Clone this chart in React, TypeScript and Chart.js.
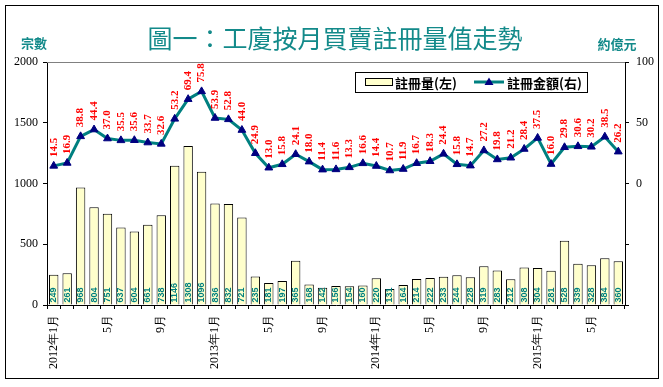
import React, { useEffect, useRef } from "react";
import { Chart, registerables } from "chart.js";

Chart.register(...registerables);

const monthLabels: string[] = [
  "2012年1月", "", "", "", "5月", "", "", "", "9月", "", "", "",
  "2013年1月", "", "", "", "5月", "", "", "", "9月", "", "", "",
  "2014年1月", "", "", "", "5月", "", "", "", "9月", "", "", "",
  "2015年1月", "", "", "", "5月", "", "",
];

const registrations: number[] = [
  249, 261, 968, 804, 751, 637, 604, 661, 738, 1146, 1308, 1096,
  836, 832, 721, 235, 181, 197, 365, 168, 142, 156, 154, 160,
  220, 131, 164, 214, 222, 233, 244, 228, 319, 283, 212, 308,
  304, 281, 528, 339, 328, 384, 360,
];

const amounts: number[] = [
  14.5, 16.9, 38.8, 44.4, 37.0, 35.5, 35.6, 33.7, 32.6, 53.2, 69.4, 75.8,
  53.9, 52.8, 44.0, 24.9, 13.0, 15.8, 24.1, 18.0, 11.4, 11.6, 13.3, 16.6,
  14.4, 10.7, 11.9, 16.7, 18.3, 24.4, 15.8, 14.7, 27.2, 19.8, 21.2, 28.4,
  37.5, 16.0, 29.8, 30.6, 30.2, 38.5, 26.2,
];

const TITLE = "圖一：工廈按月買賣註冊量值走勢";
const LEFT_UNIT = "宗數";
const RIGHT_UNIT = "約億元";
const BAR_NAME = "註冊量(左)";
const LINE_NAME = "註冊金額(右)";

const TEAL = "#138a8a";
const CJK = '"Noto Sans CJK TC", "Noto Sans CJK SC", sans-serif';

const decorPlugin = {
  id: "decor",
  beforeDraw(chart: any) {
    const ctx = chart.ctx;
    ctx.save();
    ctx.fillStyle = "#ffffff";
    ctx.fillRect(0, 0, chart.width, chart.height);
    ctx.restore();
  },
  afterDatasetsDraw(chart: any) {
    const ctx = chart.ctx;
    ctx.save();
    // bar value labels
    const barMeta = chart.getDatasetMeta(0);
    ctx.fillStyle = "#008080";
    ctx.font = 'bold 9px "Liberation Sans Narrow", "Liberation Sans", Arial, sans-serif';
    ctx.textAlign = "left";
    ctx.textBaseline = "middle";
    barMeta.data.forEach((el: any, i: number) => {
      ctx.save();
      ctx.translate(el.x, el.base - 2);
      ctx.rotate(-Math.PI / 2);
      ctx.fillText(String(registrations[i]), 0, 0);
      ctx.restore();
    });
    // line value labels
    const lineMeta = chart.getDatasetMeta(1);
    ctx.fillStyle = "#ff0000";
    ctx.font = 'bold 11px "Liberation Serif", "Times New Roman", serif';
    lineMeta.data.forEach((el: any, i: number) => {
      ctx.save();
      ctx.translate(el.x, el.y - 9);
      ctx.rotate(-Math.PI / 2);
      ctx.fillText(amounts[i].toFixed(1), 0, 0);
      ctx.restore();
    });
    ctx.restore();
  },
  afterDraw(chart: any) {
    const ctx = chart.ctx;
    const area = chart.chartArea;
    ctx.save();
    // top border of plot area
    ctx.strokeStyle = "#808080";
    ctx.lineWidth = 1;
    ctx.beginPath();
    ctx.moveTo(area.left, Math.round(area.top) + 0.5);
    ctx.lineTo(area.right, Math.round(area.top) + 0.5);
    ctx.stroke();
    // outer frame
    ctx.strokeStyle = "#000000";
    ctx.strokeRect(5.5, 5.5, 653, 373);
    // title
    ctx.fillStyle = TEAL;
    ctx.font = "25px " + CJK;
    ctx.textAlign = "center";
    ctx.textBaseline = "middle";
    ctx.fillText(TITLE, 335, 38);
    // unit labels
    ctx.font = "bold 13px " + CJK;
    ctx.fillText(LEFT_UNIT, 34, 43);
    ctx.fillText(RIGHT_UNIT, 617, 44);
    // legend
    ctx.fillStyle = "#ffffff";
    ctx.fillRect(355.5, 72.5, 232, 20);
    ctx.strokeStyle = "#000000";
    ctx.strokeRect(355.5, 72.5, 232, 20);
    ctx.fillStyle = "#ffffcc";
    ctx.fillRect(365.5, 78.5, 27, 7);
    ctx.strokeRect(365.5, 78.5, 27, 7);
    ctx.fillStyle = "#000000";
    ctx.font = "bold 13px " + CJK;
    ctx.textAlign = "left";
    ctx.fillText(BAR_NAME, 395, 83);
    ctx.strokeStyle = "#008080";
    ctx.lineWidth = 3;
    ctx.beginPath();
    ctx.moveTo(474, 82);
    ctx.lineTo(504, 82);
    ctx.stroke();
    ctx.fillStyle = "#000080";
    ctx.beginPath();
    ctx.moveTo(489, 77.5);
    ctx.lineTo(493.5, 85);
    ctx.lineTo(484.5, 85);
    ctx.closePath();
    ctx.fill();
    ctx.fillStyle = "#000000";
    ctx.fillText(LINE_NAME, 507, 83);
    ctx.restore();
  },
};

export default function App() {
  const canvasRef = useRef<HTMLCanvasElement | null>(null);

  useEffect(() => {
    if (!canvasRef.current) return;
    Chart.defaults.font.family = '"Liberation Serif", "Times New Roman", serif';
    const chart = new Chart(canvasRef.current, {
      type: "bar",
      data: {
        labels: monthLabels,
        datasets: [
          {
            type: "bar",
            label: BAR_NAME,
            data: registrations,
            backgroundColor: "#ffffcc",
            borderColor: "#000000",
            borderWidth: 1,
            barPercentage: 0.7,
            categoryPercentage: 1,
            yAxisID: "y",
            order: 2,
          } as any,
          {
            type: "line",
            label: LINE_NAME,
            data: amounts,
            borderColor: "#008080",
            borderWidth: 3,
            pointStyle: "triangle",
            pointRadius: 4.5,
            pointBackgroundColor: "#000080",
            pointBorderColor: "#000080",
            pointBorderWidth: 1,
            tension: 0,
            yAxisID: "y1",
            order: 1,
          } as any,
        ],
      },
      options: {
        responsive: false,
        animation: false,
        devicePixelRatio: 1,
        layout: { padding: { top: 62, left: 0, right: 0, bottom: 0 } },
        plugins: {
          legend: { display: false },
          title: { display: false },
          tooltip: { enabled: false },
        },
        scales: {
          x: {
            grid: {
              display: true,
              drawOnChartArea: false,
              tickLength: 4,
              color: "#000000",
              offset: true,
            },
            border: { color: "#000000", width: 1 },
            ticks: {
              autoSkip: false,
              maxRotation: 90,
              minRotation: 90,
              padding: 6,
              color: "#000000",
              font: { size: 12, family: '"Liberation Serif", serif' },
            },
            afterFit: (s: any) => {
              s.height = 82;
            },
          },
          y: {
            position: "left",
            min: 0,
            max: 2000,
            ticks: {
              stepSize: 500,
              padding: 5,
              color: "#000000",
              font: { size: 12, family: '"Liberation Serif", serif' },
              callback: (v: any) => String(v),
            },
            grid: { drawOnChartArea: false, tickLength: 4, color: "#000000" },
            border: { color: "#000000", width: 1 },
            afterFit: (s: any) => {
              s.width = 47;
            },
          },
          y1: {
            position: "right",
            min: -100,
            max: 100,
            ticks: {
              stepSize: 50,
              padding: 7,
              color: "#000000",
              font: { size: 12, family: '"Liberation Serif", serif' },
              callback: (v: any) => (Number(v) < 0 ? "" : String(v)),
            },
            grid: { drawOnChartArea: false, tickLength: 4, color: "#000000" },
            border: { color: "#000000", width: 1 },
            afterFit: (s: any) => {
              s.width = 38;
            },
          },
        },
      } as any,
      plugins: [decorPlugin],
    });
    return () => chart.destroy();
  }, []);

  return (
    <div style={{ position: "absolute", left: 0, top: 0, width: 663, height: 387, background: "#fff" }}>
      <canvas ref={canvasRef} width={663} height={387} style={{ display: "block", width: 663, height: 387 }} />
    </div>
  );
}
